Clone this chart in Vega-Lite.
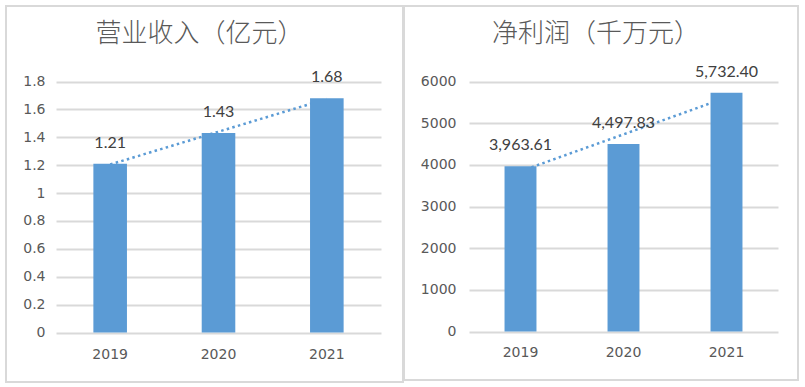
{
  "$schema": "https://vega.github.io/schema/vega-lite/v6.json",
  "background": "white",
  "padding": {"left": 5, "top": 5, "right": 0, "bottom": 0},
  "spacing": -3,
  "config": {
    "view": {"stroke": "#D9D9D9", "strokeWidth": 2},
    "axis": {"domain": false, "ticks": false, "tickSize": 0, "labelColor": "#595959", "gridColor": "#D9D9D9", "gridWidth": 2, "title": null, "labelFont": "DejaVu Sans", "labelFontSize": 14}
  },
  "hconcat": [
    {
      "width": 397,
      "height": 376,
      "title": {"text": "营业收入（亿元）", "font": "Noto Sans CJK SC", "fontSize": 26, "fontWeight": 300, "color": "#595959", "anchor": "middle", "frame": "group", "baseline": "top", "offset": -41, "dx": -5},
      "data": {"values": [{"year": 2019, "value": 1.21}, {"year": 2020, "value": 1.43}, {"year": 2021, "value": 1.68}]},
      "encoding": {
        "x": {"field": "year", "type": "ordinal", "scale": {"range": [50, 375], "paddingInner": 0.69, "paddingOuter": 0.345},
              "axis": {"labelAngle": 0, "grid": false, "offset": -35, "labelPadding": 0, "labelBaseline": "top"}},
        "y": {"field": "value", "type": "quantitative", "scale": {"domain": [0, 1.8], "range": [326.5, 75.5], "nice": false, "zero": true},
              "axis": {"values": [0, 0.2, 0.4, 0.6, 0.8, 1, 1.2, 1.4, 1.6, 1.8], "format": "~g", "offset": -41, "labelPadding": 2, "grid": true}}
      },
      "layer": [
        {"transform": [{"regression": "value", "on": "year"}], "mark": {"type": "line", "color": "#5B9BD5", "strokeWidth": 2.5, "strokeDash": [2.5, 3.3]}},
        {"mark": {"type": "bar", "color": "#5B9BD5"}},
        {"mark": {"type": "text", "baseline": "middle", "dy": -21, "font": "Lato", "fontSize": 16, "color": "#404040"},
         "encoding": {"text": {"field": "value", "type": "quantitative", "format": ".2f"}}}
      ]
    },
    {
      "width": 394,
      "height": 374,
      "title": {"text": "净利润（千万元）", "font": "Noto Sans CJK SC", "fontSize": 26, "fontWeight": 300, "color": "#595959", "anchor": "middle", "frame": "group", "baseline": "top", "offset": -41, "dx": -5},
      "data": {"values": [{"year": 2019, "value": 3963.61}, {"year": 2020, "value": 4497.83}, {"year": 2021, "value": 5732.40}]},
      "encoding": {
        "x": {"field": "year", "type": "ordinal", "scale": {"range": [65, 374], "paddingInner": 0.69, "paddingOuter": 0.345},
              "axis": {"labelAngle": 0, "grid": false, "offset": -35, "labelPadding": 0, "labelBaseline": "top"}},
        "y": {"field": "value", "type": "quantitative", "scale": {"domain": [0, 6000], "range": [325.5, 75.5], "nice": false, "zero": true},
              "axis": {"values": [0, 1000, 2000, 3000, 4000, 5000, 6000], "format": "d", "offset": -54, "labelPadding": 2, "grid": true}}
      },
      "layer": [
        {"transform": [{"regression": "value", "on": "year"}], "mark": {"type": "line", "color": "#5B9BD5", "strokeWidth": 2.5, "strokeDash": [2.5, 3.3]}},
        {"mark": {"type": "bar", "color": "#5B9BD5"}},
        {"mark": {"type": "text", "baseline": "middle", "dy": -21, "font": "Lato", "fontSize": 16, "color": "#404040"},
         "encoding": {"text": {"field": "value", "type": "quantitative", "format": ",.2f"}}}
      ]
    }
  ]
}
